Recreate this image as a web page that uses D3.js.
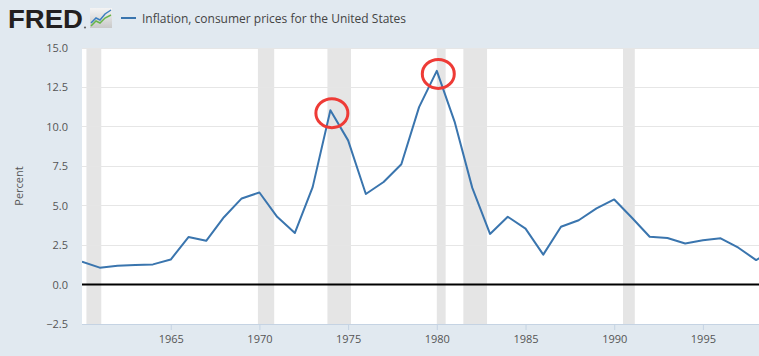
<!DOCTYPE html>
<html><head><meta charset="utf-8">
<script src="https://cdn.jsdelivr.net/npm/d3@7"></script>
<style>
html,body{margin:0;padding:0;background:#e1e9f0;}
svg{display:block;}
</style></head>
<body>
<svg id="chart" width="759" height="356"></svg>
<script>
const years = [1960,1961,1962,1963,1964,1965,1966,1967,1968,1969,1970,1971,1972,1973,1974,1975,1976,1977,1978,1979,1980,1981,1982,1983,1984,1985,1986,1987,1988,1989,1990,1991,1992,1993,1994,1995,1996,1997,1998,1999];
const inflation = [1.458,1.073,1.199,1.240,1.279,1.585,3.015,2.773,4.272,5.462,5.838,4.293,3.272,6.178,11.055,9.143,5.745,6.502,7.631,11.254,13.549,10.335,6.131,3.212,4.300,3.546,1.898,3.664,4.078,4.827,5.398,4.235,3.029,2.952,2.607,2.805,2.931,2.338,1.552,2.188];
const recessionStarts = ["1960-04-01","1969-12-01","1973-11-01","1980-01-01","1981-07-01","1990-07-01"];
const recessionEnds   = ["1961-02-01","1970-11-01","1975-03-01","1980-07-01","1982-11-01","1991-03-01"];
const xTickYears = [1965,1970,1975,1980,1985,1990,1995];
const yTicks = [-2.5,0,2.5,5,7.5,10,12.5,15];
const highlightYears = [1974,1980];
const seriesTitle = "Inflation, consumer prices for the United States";
const yLabel = "Percent";

const svg = d3.select("#chart");
const L = 82, R = 759, T = 48, B = 324;
const parse = d3.utcParse("%Y-%m-%d");
const x = d3.scaleUtc().domain([Date.UTC(1960,0,1), Date.UTC(1998,2,1)]).range([L, R]);
const y = d3.scaleLinear().domain([-2.5, 15]).range([B, T]);

const data = years.map((yr,i)=>({date:new Date(Date.UTC(yr,0,1)), v:inflation[i]}));

// plot background
svg.append("rect").attr("x",L).attr("y",T).attr("width",R-L).attr("height",B-T).attr("fill","#ffffff");

svg.append("clipPath").attr("id","clip").append("rect").attr("x",L).attr("y",T-2).attr("width",R-L).attr("height",B-T+2);

const plot = svg.append("g").attr("clip-path","url(#clip)");

// recessions
plot.selectAll("rect.rec").data(recessionStarts.map((s,i)=>({s:parse(s), e:parse(recessionEnds[i])})))
  .enter().append("rect").attr("class","rec")
  .attr("x",d=>x(d.s)).attr("width",d=>x(d.e)-x(d.s))
  .attr("y",T).attr("height",B-T).attr("fill","#e5e5e5");

// gridlines
plot.selectAll("line.grid").data(yTicks.filter(t=>t!==0 && t!==-2.5)).enter().append("line")
  .attr("x1",L).attr("x2",R).attr("y1",d=>y(d)).attr("y2",d=>y(d))
  .attr("stroke","#e6e6e6").attr("stroke-width",1).attr("shape-rendering","crispEdges");

// zero line
svg.append("line").attr("x1",L).attr("x2",R).attr("y1",y(0)).attr("y2",y(0))
  .attr("stroke","#000").attr("stroke-width",2);

// series
plot.append("path").datum(data)
  .attr("d", d3.line().x(d=>x(d.date)).y(d=>y(d.v)))
  .attr("fill","none").attr("stroke","#3a75ae").attr("stroke-width",2).attr("stroke-linejoin","round");

// x axis
const xAxis = d3.axisBottom(x)
  .tickValues(xTickYears.map(yr=>new Date(Date.UTC(yr,0,1))))
  .tickFormat(d3.utcFormat("%Y")).tickSize(6).tickPadding(5);
const gx = svg.append("g").attr("transform",`translate(0,${B})`).call(xAxis);
gx.select(".domain").attr("stroke","#c5d3e3").attr("d",`M${L},0.5H${R}`);
gx.selectAll(".tick line").attr("stroke","#c5d3e3");
gx.selectAll(".tick text").attr("fill","#555").style("font-family","'Open Sans', sans-serif").style("font-size","11px");

// y axis
const yAxis = d3.axisLeft(y).tickValues(yTicks).tickFormat(d3.format(".1f")).tickSize(0).tickPadding(14);
const gy = svg.append("g").attr("transform",`translate(${L},0)`).call(yAxis);
gy.select(".domain").remove();
gy.selectAll(".tick text").attr("fill","#555").style("font-family","'Open Sans', sans-serif").style("font-size","11px");

svg.append("text").attr("transform",`translate(23,${(T+B)/2}) rotate(-90)`)
  .attr("text-anchor","middle").attr("fill","#555")
  .style("font-family","'Open Sans', sans-serif").style("font-size","11px").text(yLabel);

// highlight circles
const peaks = highlightYears.map(yr=>data.find(d=>d.date.getUTCFullYear()===yr));
svg.selectAll("ellipse.hl").data(peaks).enter().append("ellipse")
  .attr("cx",d=>x(d.date)+1.5).attr("cy",d=>y(d.v)+3)
  .attr("rx",16).attr("ry",14.5)
  .attr("fill","none").attr("stroke","#ee3b36").attr("stroke-width",3);

// header: FRED logo
svg.append("text").attr("x",8).attr("y",28).text("FRED")
  .attr("fill","#231f20").style("font-family","'Liberation Sans', Arial, sans-serif")
  .style("font-weight","bold").style("font-size","26px")
  .attr("textLength",75).attr("lengthAdjust","spacingAndGlyphs");
svg.append("circle").attr("cx",85).attr("cy",27.5).attr("r",1.1).attr("fill","#666");
// icon
const icon = svg.append("g").attr("transform","translate(90,8)");
const grad = svg.append("defs").append("linearGradient").attr("id","ig").attr("x1",0).attr("y1",0).attr("x2",0).attr("y2",1);
grad.append("stop").attr("offset","0").attr("stop-color","#f4f4f4");
grad.append("stop").attr("offset","1").attr("stop-color","#c9c9c9");
icon.append("rect").attr("x",0).attr("y",0).attr("width",22).attr("height",20).attr("fill","url(#ig)");
icon.append("polyline").attr("points","1,15 6,10 10,12 15,6 21,2").attr("fill","none").attr("stroke","#3c7fc0").attr("stroke-width",1.5);
icon.append("polyline").attr("points","1,18 6,13 10,15 15,10 21,7").attr("fill","none").attr("stroke","#67b54a").attr("stroke-width",1.5);

// legend
svg.append("line").attr("x1",121).attr("x2",136).attr("y1",18).attr("y2",18).attr("stroke","#3a75ae").attr("stroke-width",2);
svg.append("text").attr("x",142).attr("y",22.5).text(seriesTitle)
  .attr("fill","#444").style("font-family","'Open Sans', sans-serif").style("font-size","12px");
</script>
</body></html>
